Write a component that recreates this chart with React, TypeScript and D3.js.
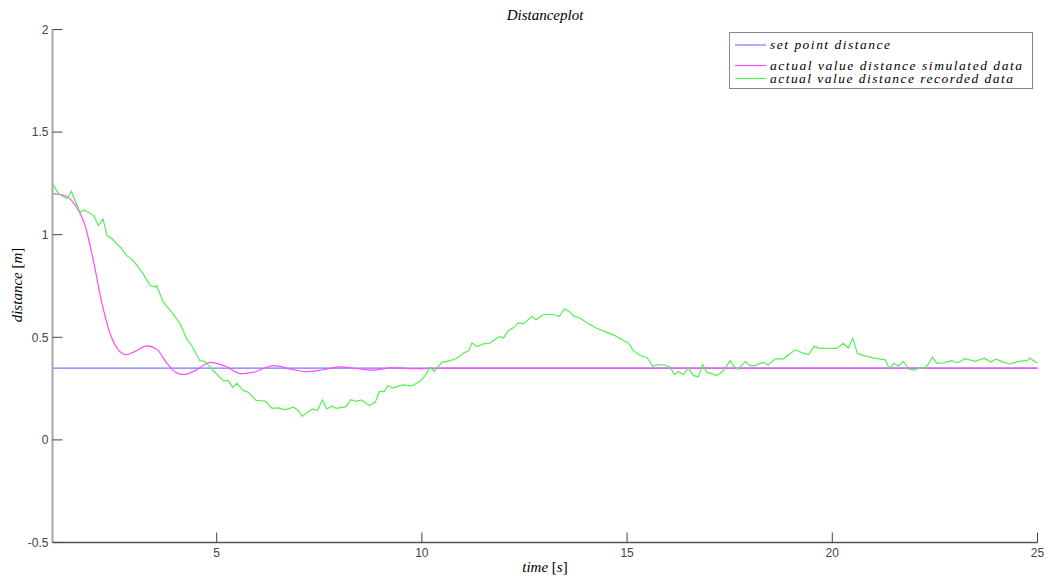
import React from 'react';
import * as d3 from 'd3';

// time [s], distance [m]
const setPoint = 0.35;

const simulated: [number, number][] = [
  [1, 1.2], [1.3, 1.19], [1.55, 1.145], [1.8, 1.04], [2.0, 0.87], [2.2, 0.67], [2.4, 0.52],
  [2.6, 0.44], [2.8, 0.415], [3.0, 0.43], [3.3, 0.458], [3.55, 0.44], [3.8, 0.37], [4.0, 0.33],
  [4.2, 0.318], [4.5, 0.34], [4.85, 0.378], [5.2, 0.36], [5.6, 0.322], [5.9, 0.33], [6.4, 0.362],
  [6.8, 0.345], [7.2, 0.332], [7.6, 0.342], [8.0, 0.356], [8.4, 0.348], [8.8, 0.34], [9.3, 0.352],
  [9.8, 0.347], [10.5, 0.35], [12, 0.35], [25, 0.35],
];

const recorded: [number, number][] = [
  [1.0, 1.248], [1.15, 1.2], [1.35, 1.175], [1.46, 1.211], [1.67, 1.109], [1.78, 1.121], [2.0, 1.093],
  [2.12, 1.044], [2.23, 1.077], [2.33, 0.996], [2.45, 0.98], [2.65, 0.939], [2.81, 0.898], [2.97, 0.874],
  [3.21, 0.809], [3.38, 0.752], [3.5, 0.745], [3.54, 0.752], [3.7, 0.671], [3.94, 0.614], [4.11, 0.565],
  [4.27, 0.492], [4.39, 0.46], [4.59, 0.386], [4.71, 0.383], [4.92, 0.338], [5.16, 0.289], [5.28, 0.289],
  [5.39, 0.256], [5.49, 0.276], [5.65, 0.24], [5.77, 0.232], [5.96, 0.192], [6.07, 0.192], [6.19, 0.188],
  [6.35, 0.154], [6.51, 0.156], [6.67, 0.146], [6.87, 0.159], [6.97, 0.146], [7.09, 0.115], [7.2, 0.134],
  [7.34, 0.151], [7.45, 0.143], [7.58, 0.195], [7.68, 0.151], [7.8, 0.164], [7.92, 0.154], [8.15, 0.162],
  [8.27, 0.196], [8.41, 0.188], [8.53, 0.195], [8.73, 0.167], [8.86, 0.183], [8.96, 0.235], [9.08, 0.235],
  [9.18, 0.265], [9.3, 0.253], [9.53, 0.268], [9.75, 0.263], [9.96, 0.286], [10.08, 0.313], [10.2, 0.354],
  [10.3, 0.334], [10.49, 0.378], [10.69, 0.386], [10.85, 0.398], [11.01, 0.422], [11.14, 0.435],
  [11.22, 0.473], [11.34, 0.455], [11.5, 0.468], [11.66, 0.471], [11.83, 0.497], [11.9, 0.503],
  [11.99, 0.497], [12.11, 0.533], [12.23, 0.546], [12.35, 0.57], [12.47, 0.565], [12.68, 0.601],
  [12.78, 0.586], [12.96, 0.611], [13.2, 0.611], [13.35, 0.602], [13.47, 0.638], [13.59, 0.627],
  [13.71, 0.602], [13.85, 0.594], [14.03, 0.57], [14.26, 0.544], [14.5, 0.524], [14.71, 0.508],
  [14.87, 0.489], [15.03, 0.473], [15.15, 0.435], [15.32, 0.411], [15.48, 0.403], [15.63, 0.357],
  [15.72, 0.367], [15.92, 0.365], [16.05, 0.354], [16.15, 0.318], [16.25, 0.333], [16.37, 0.318],
  [16.49, 0.351], [16.62, 0.313], [16.74, 0.308], [16.84, 0.367], [16.94, 0.33], [17.19, 0.313],
  [17.35, 0.338], [17.51, 0.386], [17.59, 0.362], [17.71, 0.343], [17.88, 0.382], [18.0, 0.362],
  [18.12, 0.362], [18.24, 0.373], [18.32, 0.378], [18.44, 0.365], [18.61, 0.395], [18.81, 0.395],
  [19.09, 0.439], [19.3, 0.422], [19.42, 0.416], [19.56, 0.456], [19.7, 0.446], [20.11, 0.446],
  [20.27, 0.471], [20.39, 0.448], [20.5, 0.495], [20.61, 0.422], [20.76, 0.411], [21.0, 0.4],
  [21.29, 0.39], [21.39, 0.346], [21.5, 0.373], [21.61, 0.359], [21.73, 0.382], [21.87, 0.343],
  [22.0, 0.341], [22.12, 0.351], [22.26, 0.351], [22.34, 0.37], [22.44, 0.403], [22.55, 0.373],
  [22.71, 0.375], [22.91, 0.386], [23.04, 0.375], [23.24, 0.396], [23.48, 0.383], [23.71, 0.398],
  [23.86, 0.378], [23.99, 0.395], [24.17, 0.378], [24.33, 0.37], [24.54, 0.383], [24.74, 0.386],
  [24.82, 0.398], [25.0, 0.373],
];

const xTicks = [5, 10, 15, 20, 25];
const yTicks = [-0.5, 0, 0.5, 1, 1.5, 2];
const legendItems = [
  { label: 'set point distance', color: '#7a7aff' },
  { label: 'actual value distance simulated data', color: '#ff4cff' },
  { label: 'actual value distance recorded data', color: '#55f055' },
];

const W = 1048;
const H = 579;
const serif = '"Liberation Serif", "DejaVu Serif", serif';
const sans = '"Liberation Sans", Arial, sans-serif';

export default function App() {
  const x = d3.scaleLinear().domain([1, 25]).range([52.5, 1037.5]);
  const y = d3.scaleLinear().domain([-0.5, 2]).range([542.5, 29.5]);
  const line = d3.line<[number, number]>().x(d => x(d[0])).y(d => y(d[1]));
  const smooth = d3.line<[number, number]>().curve(d3.curveMonotoneX).x(d => x(d[0])).y(d => y(d[1]));

  const rowY = [45, 65.5, 78.5];
  const rowLen = [120, 252, 243];

  return (
    <svg width={W} height={H} style={{ position: 'absolute', left: 0, top: 0, background: '#fff' }}>
      <text x={545} y={20} textAnchor="middle" fontFamily={serif} fontStyle="italic" fontSize={15}>Distanceplot</text>

      {/* data */}
      <line x1={x(1)} x2={x(25)} y1={y(setPoint)} y2={y(setPoint)} stroke={legendItems[0].color} strokeWidth={1.2} />
      <path d={smooth(simulated) ?? ''} fill="none" stroke={legendItems[1].color} strokeWidth={1.2} />
      <path d={line(recorded) ?? ''} fill="none" stroke={legendItems[2].color} strokeWidth={1.2} />

      {/* axes */}
      <line x1={x(1)} x2={x(1)} y1={y(2)} y2={y(-0.5)} stroke="#a8a8a8" strokeWidth={2} />
      <line x1={x(1)} x2={x(25)} y1={y(-0.5)} y2={y(-0.5)} stroke="#555" strokeWidth={1.3} />
      {yTicks.map(t => (
        <g key={`y${t}`}>
          <line x1={x(1)} x2={x(1) + 10} y1={y(t)} y2={y(t)} stroke="#444" strokeWidth={1} />
          <text x={x(1) - 4} y={y(t)} dy="0.35em" textAnchor="end" fontFamily={sans} fontSize={12} fill="#444">{t}</text>
        </g>
      ))}
      {xTicks.map(t => (
        <g key={`x${t}`}>
          <line x1={x(t)} x2={x(t)} y1={y(-0.5)} y2={y(-0.5) - 10} stroke="#444" strokeWidth={1} />
          <text x={x(t)} y={y(-0.5) + 14} textAnchor="middle" fontFamily={sans} fontSize={12} fill="#444">{t}</text>
        </g>
      ))}

      <text x={545} y={572} textAnchor="middle" fontFamily={serif} fontSize={15}>
        <tspan fontStyle="italic">time</tspan> [<tspan fontStyle="italic">s</tspan>]
      </text>
      <text transform="translate(22,285) rotate(-90)" textAnchor="middle" fontFamily={serif} fontSize={15}>
        <tspan fontStyle="italic">distance</tspan> [<tspan fontStyle="italic">m</tspan>]
      </text>

      {/* legend */}
      <rect x={729.5} y={32.5} width={303} height={56} fill="#fff" stroke="#888" strokeWidth={1} />
      {legendItems.map((it, i) => (
        <g key={it.label}>
          <line x1={735} x2={766} y1={rowY[i]} y2={rowY[i]} stroke={it.color} strokeWidth={1.2} />
          <text x={770} y={rowY[i]} dy="0.32em" fontFamily={serif} fontStyle="italic" fontSize={13.5}
            textLength={rowLen[i]} lengthAdjust="spacing">{it.label}</text>
        </g>
      ))}
    </svg>
  );
}
